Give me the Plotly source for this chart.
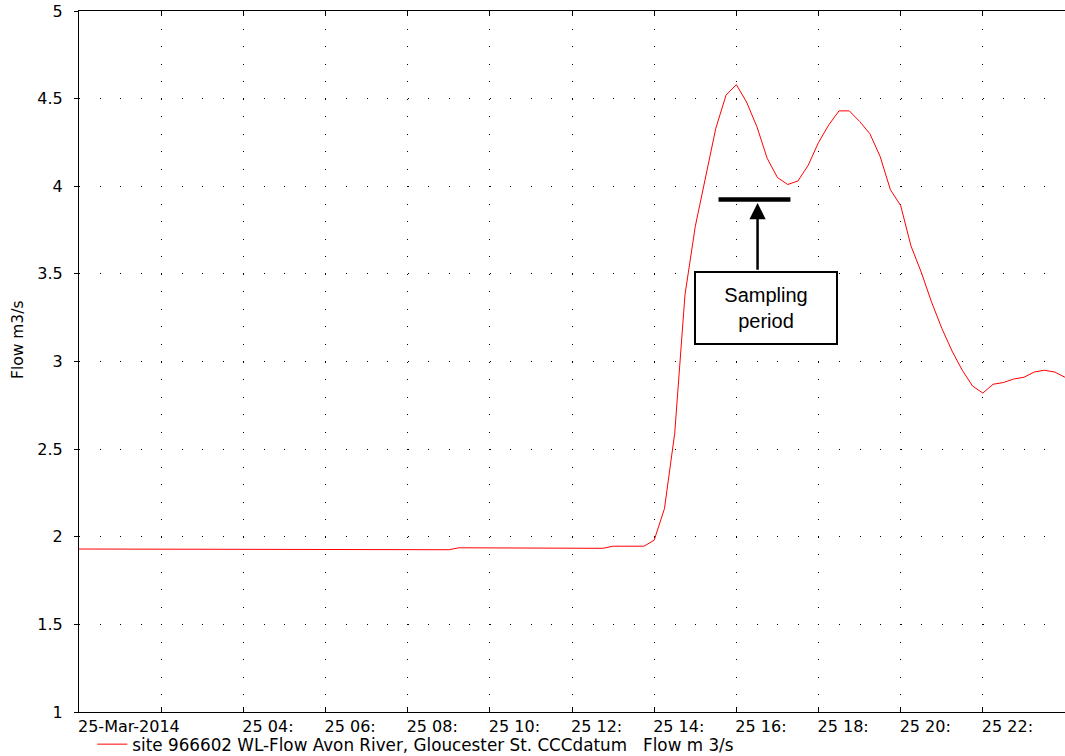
import plotly.graph_objs as go

# flow record, 25 March 2014 (15 min samples through the event)
times = [
    "2014-03-25 00:00", "2014-03-25 02:00", "2014-03-25 04:00", "2014-03-25 06:00",
    "2014-03-25 07:45", "2014-03-25 08:00", "2014-03-25 09:00", "2014-03-25 09:15",
    "2014-03-25 10:45", "2014-03-25 11:00", "2014-03-25 12:45", "2014-03-25 13:00",
    "2014-03-25 13:45", "2014-03-25 14:00", "2014-03-25 14:15", "2014-03-25 14:30",
    "2014-03-25 14:45", "2014-03-25 15:00", "2014-03-25 15:15", "2014-03-25 15:30",
    "2014-03-25 15:45", "2014-03-25 16:00", "2014-03-25 16:15", "2014-03-25 16:30",
    "2014-03-25 16:45", "2014-03-25 17:00", "2014-03-25 17:15", "2014-03-25 17:30",
    "2014-03-25 17:45", "2014-03-25 18:00", "2014-03-25 18:15", "2014-03-25 18:30",
    "2014-03-25 18:45", "2014-03-25 19:00", "2014-03-25 19:15", "2014-03-25 19:30",
    "2014-03-25 19:45", "2014-03-25 20:00", "2014-03-25 20:15", "2014-03-25 20:30",
    "2014-03-25 20:45", "2014-03-25 21:00", "2014-03-25 21:15", "2014-03-25 21:30",
    "2014-03-25 21:45", "2014-03-25 22:00", "2014-03-25 22:15", "2014-03-25 22:30",
    "2014-03-25 22:45", "2014-03-25 23:00", "2014-03-25 23:15", "2014-03-25 23:30",
    "2014-03-25 23:45", "2014-03-26 00:00",
]
flow = [
    1.93, 1.93, 1.93, 1.93,
    1.93, 1.926, 1.926, 1.937,
    1.937, 1.934, 1.934, 1.946,
    1.946, 1.98, 2.16, 2.59,
    3.38, 3.77, 4.05, 4.33,
    4.52, 4.58, 4.48, 4.34,
    4.16, 4.05, 4.01, 4.03,
    4.12, 4.25, 4.35, 4.43,
    4.43, 4.37, 4.30, 4.17,
    3.98, 3.89, 3.66, 3.51,
    3.34, 3.19, 3.06, 2.95,
    2.86, 2.82, 2.87, 2.88,
    2.90, 2.91, 2.94, 2.95,
    2.94, 2.91,
]

tick_vals = ["2014-03-25 %02d:00" % h for h in range(0, 24, 2)]
tick_text = ["25-Mar-2014", ""] + ["25 %02d:" % h for h in range(4, 24, 2)]

series_name = "site 966602 WL-Flow Avon River, Gloucester St. CCCdatum   Flow m 3/s"
y_title = "Flow m3/s"

# sampling period marker
sample_start = "2014-03-25 15:34"
sample_end = "2014-03-25 17:19"
sample_level = 3.925
arrow_x = "2014-03-25 16:31"
box_x = "2014-03-25 16:44"
box_y = 3.307

tick_font = dict(family="DejaVu Sans", size=16, color="black")
legend_font = dict(family="DejaVu Sans", size=16.8, color="black")

fig = go.Figure(data=[go.Scatter(
    x = times,
    y = flow,
    mode = "lines",
    line = dict(color = "#ff0000", width = 1),
    name = series_name,
    showlegend = True
)])

fig.add_shape(type="line", xref="x", yref="y",
              x0=sample_start, x1=sample_end, y0=sample_level, y1=sample_level,
              line=dict(color="black", width=4.5))

fig.add_annotation(x=arrow_x, y=3.905, ax=arrow_x, ay=3.515,
                   xref="x", yref="y", axref="x", ayref="y",
                   text="", showarrow=True, arrowhead=2, arrowsize=1.3,
                   arrowwidth=2.5, arrowcolor="black", standoff=0)

fig.add_annotation(x=box_x, y=box_y, xref="x", yref="y",
                   text="Sampling<br>period", showarrow=False,
                   font=dict(family="Liberation Sans, Arial", size=20, color="black"),
                   width=140, height=70, borderpad=0,
                   bordercolor="black", borderwidth=2, bgcolor="white")

# y axis title sits a little above the axis middle in the original
fig.add_annotation(x=-0.0619, y=0.532, xref="paper", yref="paper",
                   xanchor="center", yanchor="middle",
                   text=y_title, textangle=-90, showarrow=False,
                   font=dict(family="DejaVu Sans", size=15.5, color="black"))

fig.update_layout(
    width = 1065,
    height = 756,
    autosize = False,
    margin = dict(l=79, r=0, t=11, b=44, autoexpand=False),
    paper_bgcolor = "white",
    plot_bgcolor = "white",
    showlegend = True,
    legend = dict(orientation="h", x=0.0135, xanchor="left", y=-0.021, yanchor="top",
                  font=legend_font, bgcolor="rgba(0,0,0,0)"),
    xaxis = dict(
        type = "date",
        range = ["2014-03-25 00:00", "2014-03-26 00:00"],
        tickvals = tick_vals,
        ticktext = tick_text,
        ticklabelposition = "outside right",
        ticklabelshift = -2,
        ticks = "inside", ticklen = 5, tickcolor = "black",
        showline = True, linecolor = "black", linewidth = 1, mirror = "ticks",
        showgrid = True, gridcolor = "black", gridwidth = 1, griddash = "1px,16.525px",
        zeroline = False, automargin = False,
        tickfont = tick_font,
    ),
    yaxis = dict(
        range = [1, 5],
        dtick = 0.5,
        ticks = "outside", ticklen = 4, tickcolor = "black",
        ticklabelstandoff = 8,
        showline = True, linecolor = "black", linewidth = 1, mirror = "ticks",
        showgrid = True, gridcolor = "black", gridwidth = 1, griddash = "1px,19.54px",
        zeroline = False, automargin = False,
        tickfont = tick_font,
    ),
)

# the page body has a default 8px margin, drop it so the figure fills the window
fig.write_html("out.html", config={"displayModeBar": False},
               post_script="document.body.style.margin='0';")
